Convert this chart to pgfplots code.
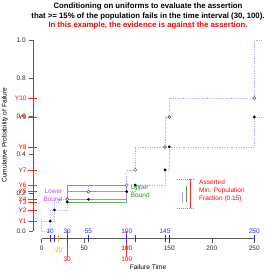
\documentclass[border=0pt]{standalone}
\usepackage{fontspec}
\setmainfont{Liberation Sans}
\usepackage{pgfplots}
\pgfplotsset{compat=1.18}
\definecolor{lav}{RGB}{175,175,250}
\definecolor{rpurple}{RGB}{160,32,240}
\definecolor{boxpurple}{RGB}{195,120,250}
\definecolor{rgreen}{RGB}{34,139,34}
\definecolor{boxgreen}{RGB}{100,180,100}
\definecolor{rblue}{RGB}{40,40,255}
\definecolor{rorange}{RGB}{255,165,0}
\definecolor{rred}{RGB}{255,0,0}
\newcommand{\fs}{\fontsize{6.5}{7.5}\selectfont}
\begin{document}
\begin{tikzpicture}
\path[use as bounding box] (0,0) rectangle (280pt,280pt);
\begin{axis}[
  at={(33.2pt,41.4pt)}, anchor=south west,
  scale only axis, width=229.6pt, height=206.2pt,
  xmin=-10, xmax=260, ymin=-0.04, ymax=1.04,
  axis x line*=bottom, axis y line*=left,
  axis line style={draw=none},
  clip=false,
  xtick={0,50,100,150,200,250},
  xticklabels={0,50,100,150,200,250},
  ytick={0,0.2,0.4,0.6,0.8,1},
  yticklabels={0.0,0.2,0.4,0.6,0.8,1.0},
  tick align=outside, major tick length=4pt,
  tick style={black!65, line width=0.5pt},
  ticklabel style={font=\fs, text=black!85},
  /pgf/number format/assume math mode=true,
  xlabel={Failure Time}, ylabel={Cumulative Probability of Failure},
  label style={font=\fontsize{6.6}{8}\selectfont},
  xlabel style={at={(axis description cs:0.5,-0.1377)}, anchor=center},
  ylabel style={at={(axis description cs:-0.1228,0.5024)}, anchor=center},
  title={Conditioning on uniforms to evaluate the assertion\\that >= 15\% of the population fails in the time interval (30, 100).\\\textcolor{rred}{In this example, the evidence is against the assertion.}},
  title style={font=\bfseries\fontsize{7.8}{9.7}\selectfont, align=center, at={(axis description cs:0.5,1.0504)}, anchor=center},
]
% axis lines
\addplot[color=black!65, line width=0.5pt] coordinates {(0,-0.04) (250,-0.04)};
\addplot[color=black!65, line width=0.5pt] coordinates {(-10,0) (-10,1)};
% staircases (upper and lower)
\addplot[color=lav, line width=0.7pt, dash pattern=on 1.2pt off 1.2pt] coordinates {
(0,0) (0,0.052) (10,0.052) (10,0.11) (15,0.11) (15,0.152) (20,0.152) (20,0.166) (30,0.166) (30,0.206) (55,0.206) (55,0.24) (100,0.24) (100,0.32) (110,0.32) (110,0.44) (145,0.44) (145,0.597) (150,0.597) (150,0.696) (250,0.696) (250,1) (260,1)};
\addplot[color=lav, line width=0.7pt, dash pattern=on 1.2pt off 1.2pt] coordinates {
(0,0) (10,0) (10,0.052) (15,0.052) (15,0.11) (30,0.11) (30,0.152) (55,0.152) (55,0.166) (100,0.166) (100,0.206) (110,0.206) (110,0.24) (145,0.24) (145,0.32) (150,0.32) (150,0.44) (250,0.44) (250,0.597) (260,0.597)};
% bound boxes
\addplot[draw=boxgreen, line width=0.6pt] coordinates {(30,0.152) (100,0.152) (100,0.24) (30,0.24) (30,0.152)};
\addplot[draw=boxpurple, line width=0.6pt] coordinates {(30,0.166) (100,0.166) (100,0.206) (30,0.206) (30,0.166)};
% points
\addplot[only marks, mark=*, mark size=1.2pt, color=black] coordinates {
(10,0.052) (15,0.11) (30,0.152) (55,0.166) (100,0.206) (110,0.24) (145,0.32) (150,0.44) (250,0.597)};
\addplot[only marks, mark=*, mark size=1.5pt, mark options={fill=white, draw=black!75, line width=0.5pt}] coordinates {
(30,0.166) (55,0.206) (100,0.24) (110,0.32) (145,0.44) (150,0.597) (250,0.696)};
% asserted fraction legend
\addplot[color=rred!60, line width=0.5pt, dash pattern=on 1pt off 1pt] coordinates {(159,0.27) (179,0.27)};
\addplot[color=rred!60, line width=0.5pt, dash pattern=on 1pt off 1pt] coordinates {(159,0.119) (179,0.119)};
\addplot[color=rred!85, line width=0.6pt] coordinates {(175,0.119) (175,0.27)};
\addplot[color=rgreen!80, line width=0.6pt] coordinates {(170,0.153) (170,0.236)};
\addplot[color=rpurple!50, line width=0.6pt] coordinates {(165,0.153) (165,0.206)};
% Y ticks on y axis
\addplot[color=rred!85, only marks, mark=-, mark size=4.3pt, mark options={line width=0.6pt}] coordinates {
(-11,0.052) (-11,0.11) (-11,0.152) (-11,0.166) (-11,0.206) (-11,0.24) (-11,0.32) (-11,0.44) (-11,0.597) (-11,0.696)};
% blue failure-time ticks
\addplot[color=rblue, only marks, mark=|, mark size=3.8pt, mark options={line width=0.6pt}] coordinates {
(10,-0.04) (15,-0.04) (30,-0.04) (55,-0.04) (100,-0.04) (110,-0.04) (145,-0.04) (150,-0.04) (250,-0.04)};
% orange censored tick
\addplot[color=rorange, only marks, mark=|, mark size=3.4pt, mark options={line width=0.6pt}] coordinates {(20,-0.04)};
% interval bounds
\addplot[color=rred!80, line width=0.6pt] coordinates {(30,0) (30,-0.135)};
\addplot[color=rred!80, line width=0.6pt] coordinates {(100,0) (100,-0.135)};
% labels
\foreach \yy/\lab in {0.052/Y1,0.11/Y2,0.152/Y3,0.166/Y4,0.206/Y5,0.24/Y6,0.32/Y7,0.44/Y8,0.597/Y9,0.696/Y10}{
  \edef\tmp{\noexpand\node[anchor=east, text=rred, font=\noexpand\fs, inner sep=0pt] at (axis cs:-17.6,\yy) {\lab};}
  \tmp
}
\foreach \xx in {10,30,55,100,145,250}{
  \edef\tmp{\noexpand\node[text=rblue, font=\noexpand\fs, inner sep=0pt, yshift=7.5pt] at (axis cs:\xx,-0.04) {\xx};}
  \tmp
}
\node[text=rorange, font=\fs, inner sep=0pt, yshift=-11.7pt] at (axis cs:20,-0.04) {20};
\node[text=rred, font=\fs, inner sep=0pt, yshift=-21pt] at (axis cs:30,-0.04) {30};
\node[text=rred, font=\fs, inner sep=0pt, yshift=-21pt] at (axis cs:100,-0.04) {100};
\node[align=right, anchor=east, text=rpurple!80, font=\fontsize{6.5}{7.5}\selectfont, inner sep=0pt] at (axis cs:24.5,0.187) {Lower\\Bound};
\node[align=left, anchor=west, text=rgreen, font=\fontsize{6.5}{8}\selectfont, inner sep=0pt] at (axis cs:104.6,0.207) {Upper\\Bound};
\node[align=left, anchor=west, text=rred, font=\fontsize{6.5}{8}\selectfont, inner sep=0pt] at (axis cs:185,0.211) {Asserted\\Min. Population\\Fraction (0.15)};
\end{axis}
\end{tikzpicture}
\end{document}
